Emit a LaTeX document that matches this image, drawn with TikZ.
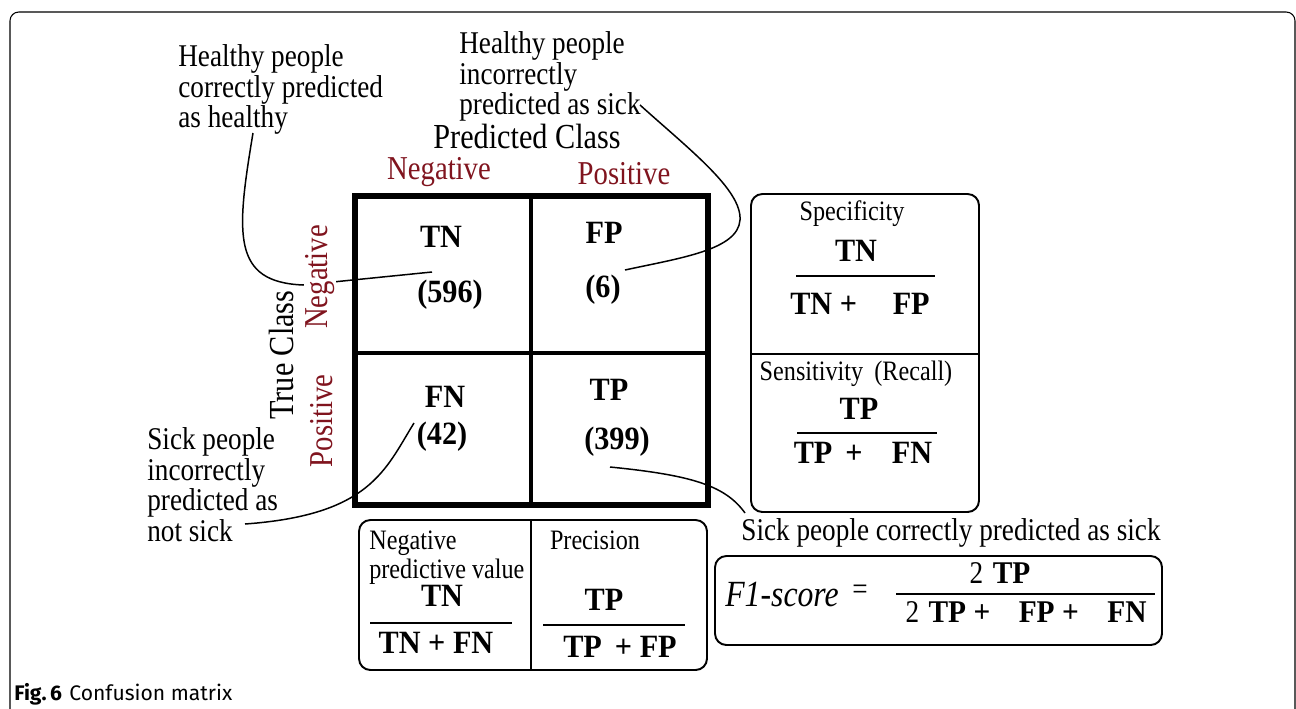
\documentclass[tikz,border=0pt]{standalone}
\usepackage{fontspec}
\setmainfont[FakeStretch=0.86, BoldFeatures={FakeStretch=0.93}]{Liberation Serif}
\newfontfamily\capsans{Fira Sans}
\usetikzlibrary{positioning,calc}
\definecolor{clsred}{RGB}{128,20,30}

\tikzset{
	note/.style={font=\fontsize{18}{17.5}\selectfont, align=left, anchor=north west, inner sep=0pt},
	cls/.style={font=\fontsize{19}{19}\selectfont, text=clsred, inner sep=1pt},
	cell/.style={font=\fontsize{18.5}{18.5}\selectfont\bfseries, inner sep=0pt},
	metric/.style={font=\fontsize{16}{16}\selectfont, inner sep=0pt},
	card/.style={draw, line width=1.1pt, rounded corners=6.5pt},
	fracline/.style={line width=1.2pt},
	leader/.style={line width=0.85pt},
}

\begin{document}
\begin{tikzpicture}[x=0.02cm, y=-0.02cm]
		\useasboundingbox (0,0) rectangle (1296,708);
		% figure frame
		\begin{scope}
			\clip (0,0) rectangle (1296,708);
			\draw [line width=0.6pt, rounded corners=5pt] (10,12) rectangle (1295,760);
		\end{scope}
		% matrix
		\draw [line width=2.9pt] (355,196) rectangle (708,505);
		\draw [line width=2pt] (531,196) -- (531,505);
		\draw [line width=2pt] (355,353) -- (708,353);
		\node [cell] (tn) at (441,237) {TN};
		\node [cell] (tn-n) at (450,295) {(596)};
		\node [cell] (fp) at (604,233) {FP};
		\node [cell] (fp-n) at (603,290) {(6)};
		\node [cell] (fn) at (445,397) {FN};
		\node [cell] (fn-n) at (442,437) {(42)};
		\node [cell] (tp) at (609,390) {TP};
		\node [cell] (tp-n) at (617,442) {(399)};
		% notes
		\node [note] (ann-tn) at (178,44) {Healthy people\\correctly predicted\\as healthy};
		\node [note] (ann-fp) at (459,31) {Healthy people\\incorrectly\\predicted as sick};
		\node [note] (ann-fn) at (147,427) {Sick people\\incorrectly\\predicted as\\not sick};
		\node [note, anchor=center] (ann-tp) at (951,533) {Sick people correctly predicted as sick};
		\coordinate (tn-from) at (253,133);
		\coordinate (tn-to) at (432,272);
		\coordinate (fp-from) at (640,105);
		\coordinate (fp-to) at (625,270);
		\coordinate (fn-from) at (245,524);
		\coordinate (fn-to) at (414,423);
		\coordinate (tp-from) at (610,467);
		\coordinate (tp-to) at (745,513);
		\draw [leader] (tn-from) .. controls (236,235) and (232,282) .. (303,285) -- (tn-to);
		\draw [leader] (fp-from) .. controls (690,150) and (742,190) .. (740,220) .. controls (738,250) and (680,258) .. (fp-to);
		\draw [leader] (fn-from) .. controls (370,515) and (385,470) .. (fn-to);
		\draw [leader] (tp-from) .. controls (690,475) and (725,485) .. (tp-to);
		% class labels
		\node [font=\fontsize{20}{20}\selectfont] (pred) at (527,136) {Predicted Class};
		\node [cls] (pred-neg) at (439,172) {Negative};
		\node [cls] (pred-pos) at (624,174) {Positive};
		\node [font=\fontsize{20}{20}\selectfont, rotate=90] (true) at (281,355) {True Class};
		\node [cls, rotate=90, fill=white] (true-neg) at (320,277) {Negative};
		\node [cls, rotate=90] (true-pos) at (322,421) {Positive};
		% specificity / sensitivity
		\draw [card] (751,194) rectangle (979,512);
		\draw [line width=1.1pt] (751,354) -- (979,354);
		\node [metric] (spec) at (852,214) {Specificity};
		\node [cell] (spec-num) at (856,251) {TN};
		\draw [fracline] (796,276) -- (935,276);
		\node [cell] (spec-den) at (860,304) {TN +\hspace{1.1em}FP};
		\node [metric] (sens) at (856,374) {Sensitivity\hspace{0.4em}(Recall)};
		\node [cell] (sens-num) at (859,409) {TP};
		\draw [fracline] (797,433) -- (937,433);
		\node [cell] (sens-den) at (863,453) {TP\hspace{0.4em}+\hspace{0.9em}FN};
		% npv / precision
		\draw [card] (359,520) rectangle (707,670);
		\draw [line width=1.1pt] (531,520) -- (531,670);
		\node [metric, align=left, anchor=north west] (npv) at (369,531) {Negative\\predictive value};
		\node [cell] (npv-num) at (442,596) {TN};
		\draw [fracline] (370,623) -- (512,623);
		\node [cell] (npv-den) at (436,643) {TN + FN};
		\node [metric] (prec) at (595,540) {Precision};
		\node [cell] (prec-num) at (604,600) {TP};
		\draw [fracline] (543,625) -- (685,625);
		\node [cell] (prec-den) at (620,647) {TP\hspace{0.4em}+ FP};
		% f1
		\draw [card] (715,556) rectangle (1162,645);
		\node [font=\fontsize{21}{21}\selectfont\itshape, anchor=west, inner sep=0pt] (f1) at (725,594) {F1-score};
		\node [font=\fontsize{18}{18}\selectfont, inner sep=0pt] (eq) at (860,592) {=};
		\node [cell, font=\fontsize{18}{18}\selectfont] (f1-num) at (1000,573) {2\hspace{0.3em}\textbf{TP}};
		\draw [fracline] (896,594) -- (1155,594);
		\node [cell, font=\fontsize{18}{18}\selectfont] (f1-den) at (1026,612) {2\hspace{0.3em}\textbf{TP +\hspace{0.9em}FP +\hspace{0.9em}FN}};
		% caption
		\node [font=\capsans\fontsize{12}{12}\selectfont, anchor=base west, inner sep=0pt] (cap) at (14,700) {\textbf{Fig.\,6}\hspace{0.35em}Confusion matrix};
	\end{tikzpicture}
\end{document}
